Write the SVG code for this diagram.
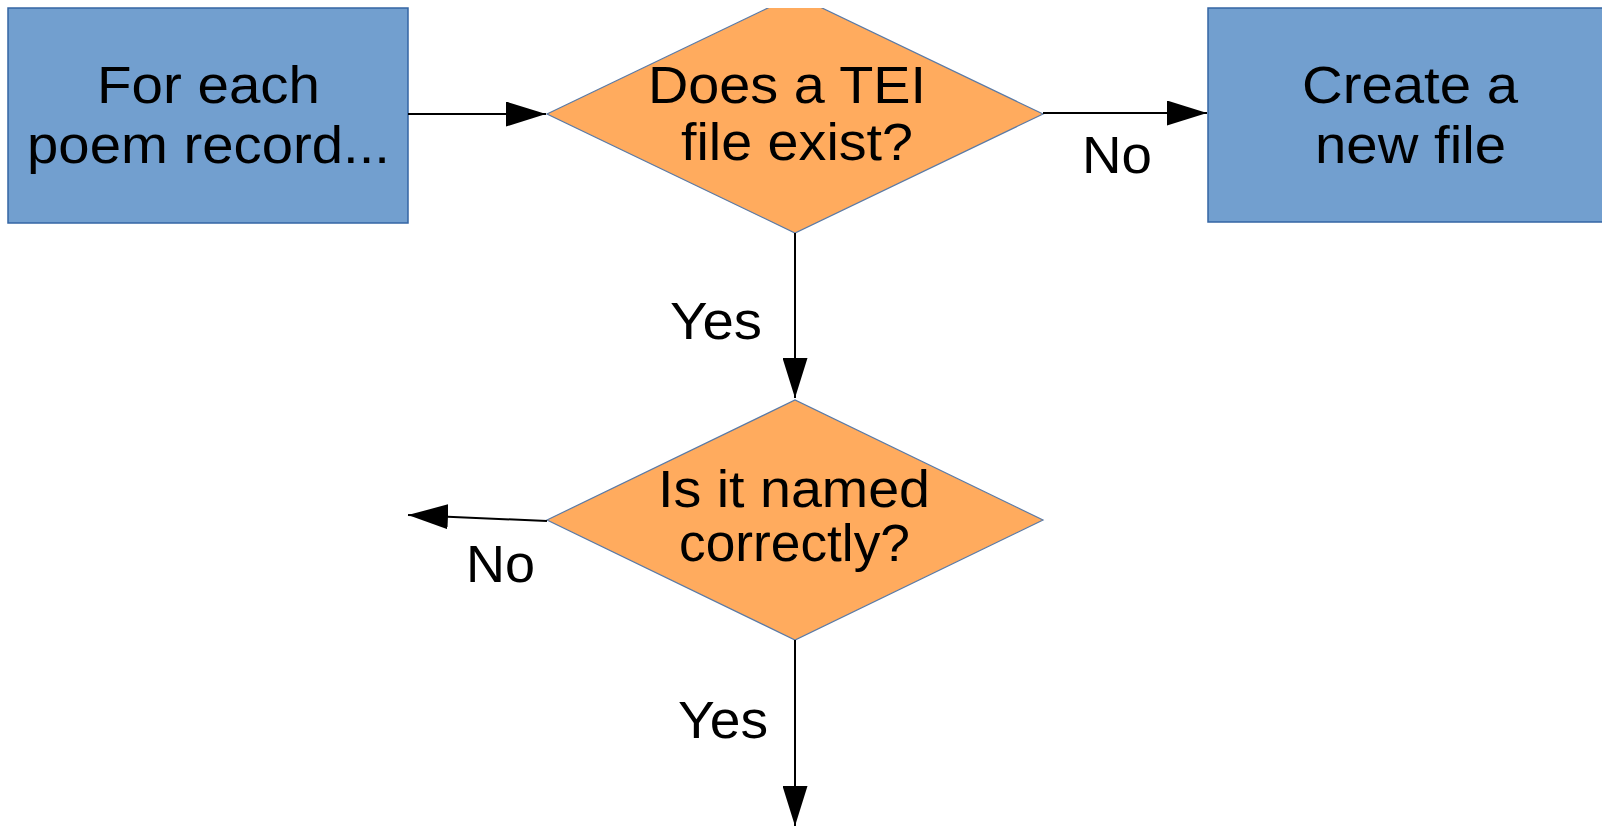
<svg xmlns="http://www.w3.org/2000/svg" width="1602" height="829" viewBox="0 0 1602 829">
<style>
.box{fill:#729fcf;stroke:#3465a4;stroke-width:1.5}
.dia{fill:#ffab5e;stroke:#5a7aa6;stroke-width:1.2}
.t{font-family:"Liberation Sans",Arial,sans-serif;font-size:51px;fill:#000}
.c{fill:none;stroke:#000;stroke-width:2}
</style>
<defs>
<marker id="ah" markerUnits="userSpaceOnUse" markerWidth="40" markerHeight="25" refX="40" refY="12.5" orient="auto">
<path d="M0,0 L40,12.5 L0,25 z" fill="#000"/>
</marker>
<clipPath id="clipTop"><rect x="0" y="8" width="1602" height="821"/></clipPath>
</defs>
<rect width="1602" height="829" fill="#fff"/>
<g id="node-for-each">
<rect class="box" x="8" y="8" width="400" height="215"/>
<text class="t" x="97" y="103" textLength="223" lengthAdjust="spacingAndGlyphs">For each</text>
<text class="t" x="27" y="163" textLength="363" lengthAdjust="spacingAndGlyphs">poem record...</text>
</g>
<g id="node-tei-exists">
<polygon class="dia" clip-path="url(#clipTop)" points="547,114 795,-5 1043,114 795,233"/>
<text class="t" x="648" y="103" textLength="278" lengthAdjust="spacingAndGlyphs">Does a TEI</text>
<text class="t" x="681" y="160" textLength="232" lengthAdjust="spacingAndGlyphs">file exist?</text>
</g>
<g id="node-create">
<rect class="box" x="1208" y="8" width="410" height="214"/>
<text class="t" x="1302" y="103" textLength="216" lengthAdjust="spacingAndGlyphs">Create a</text>
<text class="t" x="1315" y="163" textLength="191" lengthAdjust="spacingAndGlyphs">new file</text>
</g>
<g id="node-named">
<polygon class="dia" points="547,520 795,400 1043,520 795,640"/>
<text class="t" x="658" y="507" textLength="272" lengthAdjust="spacingAndGlyphs">Is it named</text>
<text class="t" x="679" y="561" textLength="231" lengthAdjust="spacingAndGlyphs">correctly?</text>
</g>
<g id="connectors">
<line class="c" x1="408" y1="114" x2="546" y2="114" marker-end="url(#ah)"/>
<line class="c" x1="1043" y1="113" x2="1207" y2="113" marker-end="url(#ah)"/>
<line class="c" x1="795" y1="233" x2="795" y2="398" marker-end="url(#ah)"/>
<line class="c" x1="547" y1="521" x2="408" y2="515" marker-end="url(#ah)"/>
<line class="c" x1="795" y1="640" x2="795" y2="826" marker-end="url(#ah)"/>
<text class="t" x="1082" y="173" textLength="70" lengthAdjust="spacingAndGlyphs">No</text>
<text class="t" x="670" y="339" textLength="92" lengthAdjust="spacingAndGlyphs">Yes</text>
<text class="t" x="466" y="582" textLength="69" lengthAdjust="spacingAndGlyphs">No</text>
<text class="t" x="678" y="738" textLength="90" lengthAdjust="spacingAndGlyphs">Yes</text>
</g>
</svg>
